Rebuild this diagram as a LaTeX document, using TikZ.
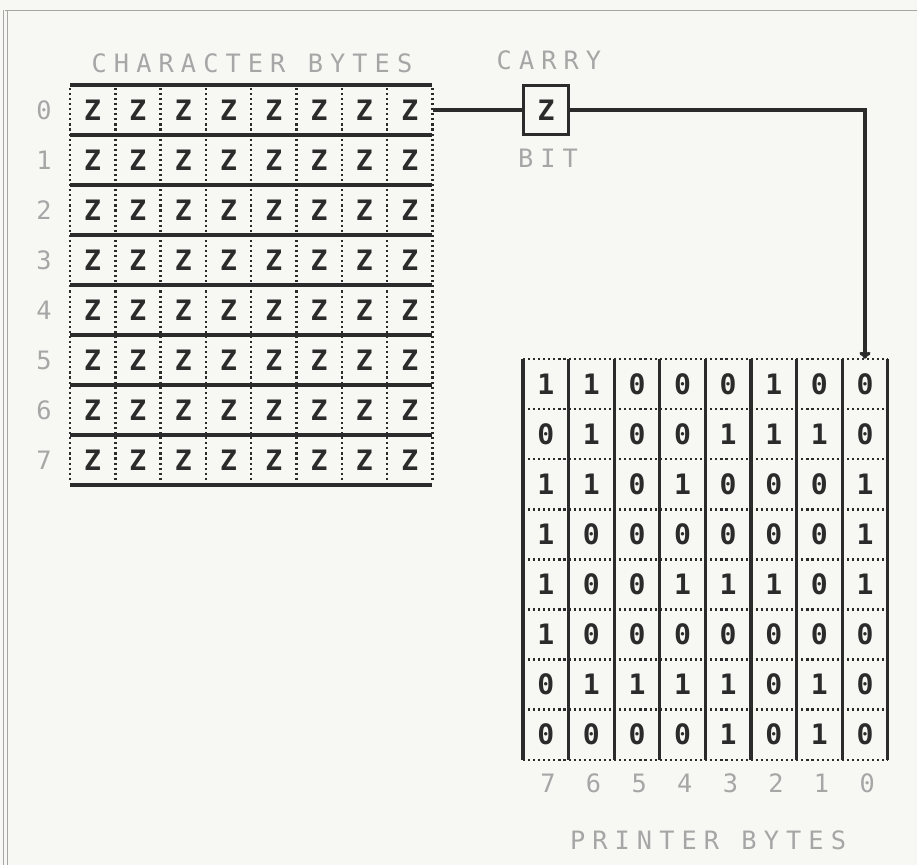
\documentclass[tikz,border=0pt]{standalone}
\usepackage{fontspec}
\usetikzlibrary{positioning, arrows.meta}

\newfontfamily\dotfont[LetterSpace=28]{DejaVu Sans Mono}
\newfontfamily\cellfont{DejaVu Sans Mono}
\definecolor{paper}{HTML}{F7F8F3}
\definecolor{ink}{HTML}{2B2B2B}
\definecolor{faint}{HTML}{A6A6A6}

\tikzset{
    bar/.style={ink, line width=2.4pt},
    dots/.style={ink, line width=1.8pt, dash pattern=on 1.5pt off 2.1pt},
    frame/.style={gray!70, line width=0.5pt},
    conn/.style={ink, line width=2.4pt},
    zcell/.style={minimum width=11.3mm, minimum height=12.5mm, inner sep=0pt,
        text=ink, font=\cellfont\fontsize{20}{20}\selectfont\bfseries},
    pcell/.style={zcell, minimum width=11.4mm},
    carrybox/.style={draw=ink, line width=2pt, minimum width=11.4mm,
        minimum height=12.2mm, inner sep=0pt, text=ink,
        font=\cellfont\fontsize{20}{20}\selectfont\bfseries},
    faintlbl/.style={text=faint, inner sep=0pt,
        font=\dotfont\fontsize{18}{18}\selectfont}
}

\begin{document}
\begin{tikzpicture}[x=0.25mm, y=-0.25mm]

    \fill[paper] (0,0) rectangle (917,865);
    \useasboundingbox (0,0) rectangle (917,865);

    \draw[frame] (5,10) -- (917,10);
    \draw[frame] (3,10) -- (3,865);
    \draw[frame] (7,10) -- (7,865);

    % character bytes
    \node[faintlbl] (chartitle) at (252,63) {CHARACTER BYTES};
    \foreach \i in {0,...,7} {
        \node[faintlbl] (row-\i) at (44,110+50*\i) {\i};
        \foreach \j in {0,...,7}
            \node[zcell] (z-\i-\j) at (92.65+45.3*\j,110+50*\i) {Z};
    }
    \foreach \i in {0,...,8}
        \draw[bar] (70,85+50*\i) -- (432.4,85+50*\i);
    \foreach \j in {0,...,8}
        \draw[dots] (70+45.3*\j,88) -- (70+45.3*\j,482);

    % carry bit
    \node[faintlbl] (carrytitle) at (549,60) {CARRY};
    \node[carrybox] (carry) at (546,110) {Z};
    \node[faintlbl] (bittitle) at (548,158) {BIT};

    % printer bytes
    \foreach \row [count=\i from 0] in {{1,1,0,0,0,1,0,0},{0,1,0,0,1,1,1,0},
        {1,1,0,1,0,0,0,1},{1,0,0,0,0,0,0,1},{1,0,0,1,1,1,0,1},
        {1,0,0,0,0,0,0,0},{0,1,1,1,1,0,1,0},{0,0,0,0,1,0,1,0}} {
        \foreach \b [count=\j from 0] in \row
            \node[pcell] (p-\i-\j) at (545.8+45.6*\j,384+50.1*\i) {\b};
    }
    \foreach \i in {0,...,8}
        \draw[dots] (523,359+50.1*\i) -- (888,359+50.1*\i);
    \foreach \j in {0,...,8}
        \draw[bar] (523+45.6*\j,359) -- (523+45.6*\j,760);
    \foreach \n [count=\j from 0] in {7,6,5,4,3,2,1,0}
        \node[faintlbl] (bit-\n) at (548+45.6*\j,783) {\n};
    \node[faintlbl] (printtitle) at (708,840) {PRINTER BYTES};

    \draw[conn] (z-0-7.east) -- (carry.west);
    \draw[conn, -{To[length=5pt, width=8pt]}] (carry.east) -| (p-0-7.north);

\end{tikzpicture}
\end{document}
